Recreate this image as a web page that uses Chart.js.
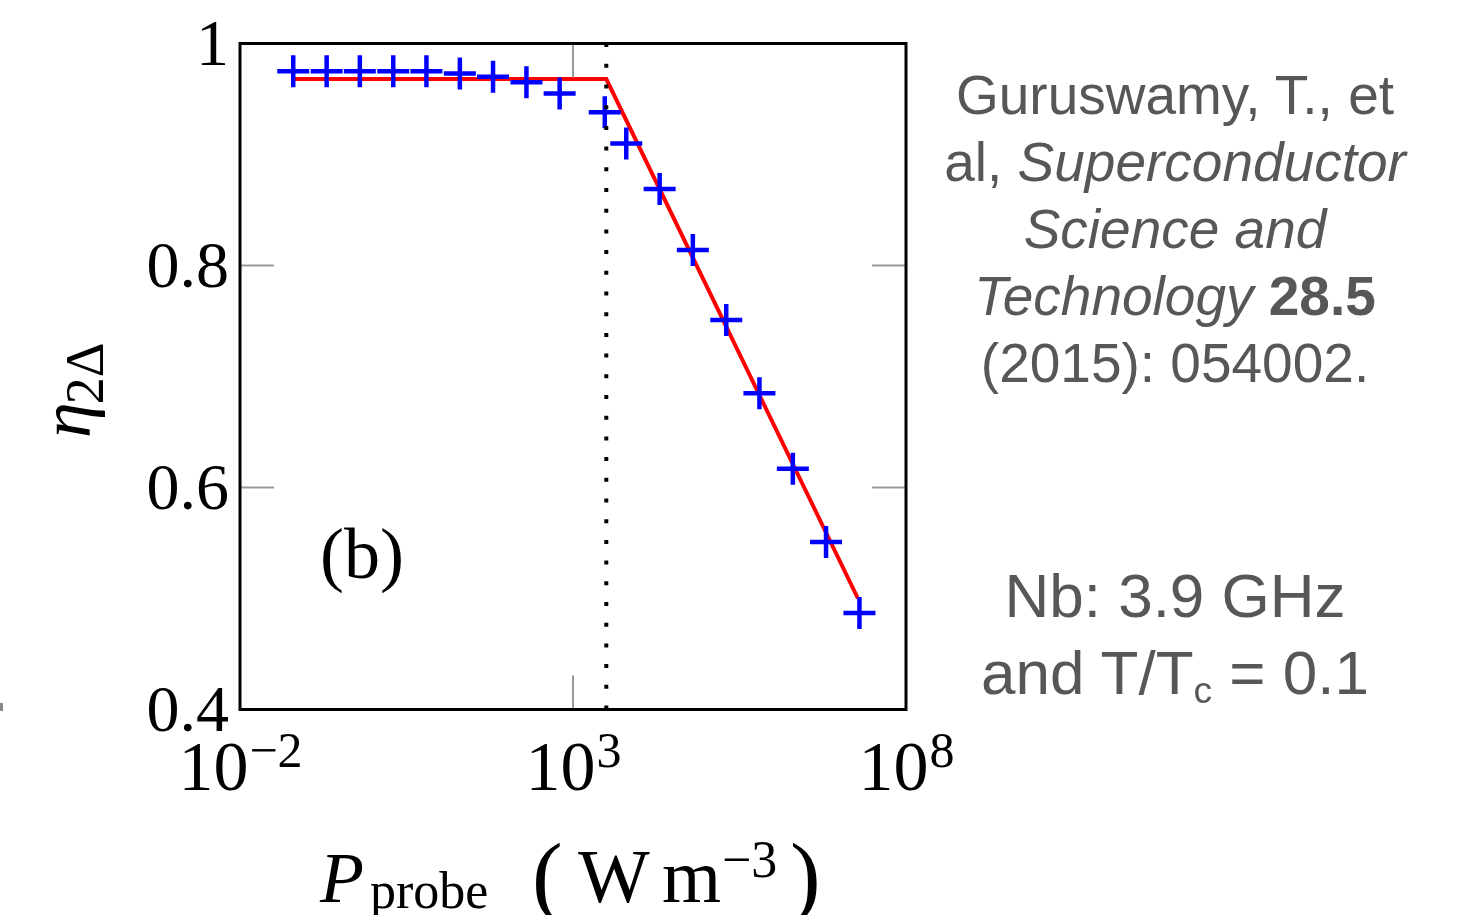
<!DOCTYPE html>
<html>
<head>
<meta charset="utf-8">
<script src="https://cdn.jsdelivr.net/npm/chart.js@4/dist/chart.umd.min.js"></script>
<style>
  body { margin: 0; background: #fff; }
  #wrap { position: relative; width: 1470px; height: 915px; }
  #chart { position: absolute; left: 0; top: 0; }
  .note {
    position: absolute; left: 940px; width: 470px; text-align: center;
    font-family: "Liberation Sans", Arial, sans-serif; color: #575757;
  }
  #ref { top: 62px; font-size: 55px; line-height: 67px; }
  #cond { top: 557px; font-size: 62px; line-height: 77px; }
  sub { font-size: 60%; vertical-align: -0.25em; line-height: 0; }
</style>
</head>
<body>
<div id="wrap">
  <canvas id="chart" width="1470" height="915"></canvas>
  <div id="ref" class="note">Guruswamy, T., et<br>al, <i>Superconductor</i><br><i>Science and</i><br><i>Technology</i> <b>28.5</b><br>(2015): 054002.</div>
  <div id="cond" class="note">Nb: 3.9 GHz<br>and T/T<sub>c</sub> = 0.1</div>
</div>
<script>
// measured points (P_probe in W m^-3, eta_2Delta)
const probePower = [0.063, 0.2, 0.63, 2, 6.3, 20, 63, 200, 630, 3000, 6300, 2e4, 6.3e4, 2e5, 6.3e5, 2e6, 6.3e6, 2e7];
const eta = [0.975, 0.975, 0.975, 0.975, 0.975, 0.973, 0.970, 0.965, 0.955, 0.938, 0.910, 0.869, 0.814, 0.751, 0.685, 0.617, 0.551, 0.487];

// piecewise fit (red line)
const fitPower = [0.063, 3162, 1.9e7];
const fitEta = [0.968, 0.968, 0.50];

// dotted threshold line
const critPower = 3162;

const xTicks = [-2, 3, 8];          // exponents of 10
const yTicks = [0.4, 0.6, 0.8, 1];
const xMin = 1e-2, xMax = 1e8, yMin = 0.4, yMax = 1;

const serif = '"Liberation Serif", "DejaVu Serif", serif';

const decor = {
  id: 'decor',
  afterDraw(chart) {
    const ctx = chart.ctx;
    const a = chart.chartArea;
    const xs = chart.scales.x, ys = chart.scales.y;
    ctx.save();

    // inward tick marks
    ctx.strokeStyle = '#9a9a9a';
    ctx.lineWidth = 2;
    ctx.beginPath();
    yTicks.forEach(v => {
      const py = ys.getPixelForValue(v);
      ctx.moveTo(a.left, py); ctx.lineTo(a.left + 34, py);
      ctx.moveTo(a.right, py); ctx.lineTo(a.right - 34, py);
    });
    xTicks.forEach(e => {
      const px = xs.getPixelForValue(Math.pow(10, e));
      ctx.moveTo(px, a.top); ctx.lineTo(px, a.top + 34);
      ctx.moveTo(px, a.bottom); ctx.lineTo(px, a.bottom - 34);
    });
    ctx.stroke();

    // frame
    ctx.strokeStyle = '#000';
    ctx.lineWidth = 3;
    ctx.strokeRect(a.left, a.top, a.right - a.left, a.bottom - a.top);

    ctx.fillStyle = '#000';
    // y tick labels
    ctx.font = '66px ' + serif;
    ctx.textAlign = 'right';
    ctx.textBaseline = 'alphabetic';
    yTicks.forEach(v => {
      const py = ys.getPixelForValue(v);
      ctx.fillText(v === 1 ? '1' : v.toFixed(1), a.left - 11, py + 21);
    });

    // x tick labels 10^n
    ctx.textAlign = 'left';
    xTicks.forEach(e => {
      const px = xs.getPixelForValue(Math.pow(10, e));
      const sup = e < 0 ? '\u2212' + (-e) : String(e);
      ctx.font = '70px ' + serif;
      const w1 = ctx.measureText('10').width;
      ctx.font = '50px ' + serif;
      const w2 = ctx.measureText(sup).width;
      const x0 = px - (w1 + w2) / 2;
      ctx.font = '70px ' + serif;
      ctx.fillText('10', x0, 790);
      ctx.font = '50px ' + serif;
      ctx.fillText(sup, x0 + w1 + 1, 767);
    });

    // x axis title
    ctx.font = 'italic 72px ' + serif;
    ctx.fillText('P', 320, 902);
    ctx.font = '52px ' + serif;
    ctx.fillText('probe', 370, 908);
    ctx.font = '92px ' + serif;
    ctx.fillText('(', 532, 906);
    ctx.fillText(')', 790, 906);
    ctx.font = '76px ' + serif;
    ctx.fillText('W', 578, 902);
    ctx.fillText('m', 662, 902);
    ctx.font = '52px ' + serif;
    ctx.fillText('\u22123', 722, 877);

    // y axis title
    ctx.save();
    ctx.translate(90, 438);
    ctx.rotate(-Math.PI / 2);
    ctx.font = 'italic 72px ' + serif;
    ctx.fillText('\u03b7', 0, 0);
    const we = ctx.measureText('\u03b7').width;
    ctx.font = '54px ' + serif;
    ctx.fillText('2\u0394', we - 2, 13);
    ctx.restore();

    // panel label
    ctx.font = '72px ' + serif;
    ctx.fillText('(b)', 320, 578);

    // small stray mark at left edge
    ctx.fillStyle = '#8a8a8a';
    ctx.fillRect(0, 703, 3, 8);
    ctx.restore();
  }
};

new Chart(document.getElementById('chart'), {
  type: 'scatter',
  data: {
    datasets: [
      {
        label: 'threshold',
        data: [{ x: critPower, y: yMin }, { x: critPower, y: yMax }],
        showLine: true,
        borderColor: '#000',
        borderWidth: 4,
        borderDash: [4, 16.7],
        pointRadius: 0,
        order: 0
      },
      {
        label: 'data',
        data: probePower.map((p, i) => ({ x: p, y: eta[i] })),
        pointStyle: 'cross',
        pointRadius: 16,
        pointBorderWidth: 4.5,
        borderWidth: 4.5,
        borderColor: '#0000ff',
        backgroundColor: '#0000ff',
        order: 1
      },
      {
        label: 'fit',
        data: fitPower.map((p, i) => ({ x: p, y: fitEta[i] })),
        showLine: true,
        borderColor: '#ff0000',
        borderWidth: 4,
        pointRadius: 0,
        order: 2
      }
    ]
  },
  options: {
    responsive: false,
    animation: false,
    layout: { padding: { left: 240, right: 564, top: 43.5, bottom: 205.5 } },
    plugins: { legend: { display: false }, tooltip: { enabled: false } },
    scales: {
      x: {
        type: 'logarithmic', min: xMin, max: xMax,
        grid: { display: false }, border: { display: false },
        ticks: { display: false },
        afterFit: s => { s.height = 0; }
      },
      y: {
        min: yMin, max: yMax,
        grid: { display: false }, border: { display: false },
        ticks: { display: false },
        afterFit: s => { s.width = 0; }
      }
    }
  },
  plugins: [decor]
});
</script>
</body>
</html>
